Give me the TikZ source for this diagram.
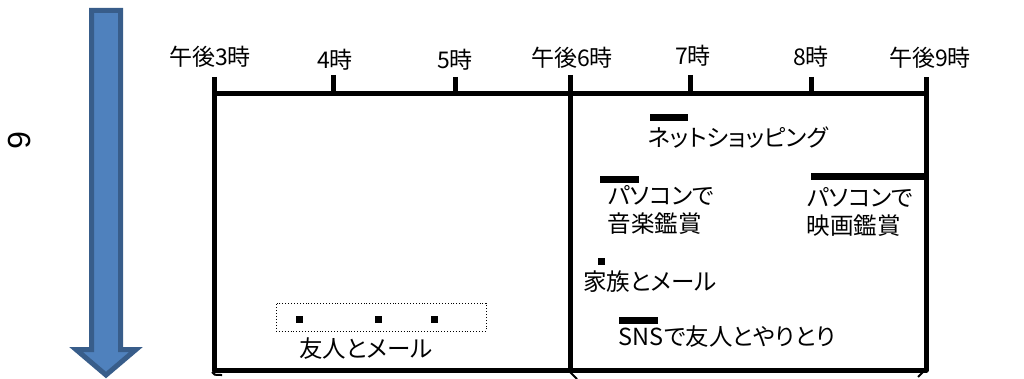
\documentclass[tikz,border=0pt]{standalone}
\usepackage{fontspec}
\setmainfont{Noto Sans CJK JP}
\newfontfamily\proptext[RawFeature=+palt]{Noto Sans CJK JP}
\newfontfamily\latinsans{Liberation Sans}
\definecolor{arrowfill}{HTML}{4F81BD}
\definecolor{arrowedge}{HTML}{385D8A}
\begin{document}
\begin{tikzpicture}[x=1pt,y=-1pt,
  frame/.style={line width=5pt, line join=round, line cap=butt},
  barnode/.style={rectangle, fill=black, draw=none, inner sep=0pt, minimum height=7pt},
  dotnode/.style={rectangle, fill=black, draw=none, inner sep=0pt, minimum width=7pt, minimum height=7pt},
  hourlbl/.style={font=\fontsize{23}{26}\selectfont, inner sep=0pt},
  bodytxt/.style={font=\proptext\fontsize{23.5}{28}\selectfont, inner sep=0pt, align=left},
  blockarrow/.style={fill=arrowfill, draw=arrowedge, line width=5pt, line join=miter}]
\useasboundingbox (0,0) rectangle (1024,379);
% big blue arrow
\draw[blockarrow] (91.5,10.5) -- (120.5,10.5) -- (120.5,349.5) -- (136,349.5) -- (106,375) -- (76,349.5) -- (91.5,349.5) -- cycle;
\node[font=\latinsans\fontsize{32}{36}\selectfont, rotate=-90, inner sep=0pt] (six) at (20,140) {6};
% timeline coordinates
\coordinate (t3) at (214.5,77);
\coordinate (t4) at (333.5,75);
\coordinate (t5) at (455.5,77);
\coordinate (t6) at (570,75);
\coordinate (t7) at (690,75);
\coordinate (t8) at (811,77);
\coordinate (t9) at (926,77);
\coordinate (a3) at (214.5,93.5);
\coordinate (a4) at (333.5,93.5);
\coordinate (a5) at (455.5,93.5);
\coordinate (a6) at (570,93.5);
\coordinate (a7) at (690,93.5);
\coordinate (a8) at (811,93.5);
\coordinate (a9) at (926,93.5);
\coordinate (b3) at (214.5,370);
\coordinate (b6) at (570,370);
\coordinate (b9) at (926,370);
% frame
\draw[frame] (a3) -- (a9);
\draw[frame] (t3) -- (b3) -- (b9) -- (t9);
\draw[frame] (t6) -- (b6);
\draw[frame] (t4) -- (a4);
\draw[frame] (t5) -- (a5);
\draw[frame] (t7) -- (a7);
\draw[frame] (t8) -- (a8);
% hour labels
\node[hourlbl] (h3) at (210,57) {午後3時};
\node[hourlbl] (h4) at (335,60) {4時};
\node[hourlbl] (h5) at (455,60) {5時};
\node[hourlbl] (h6) at (572,58) {午後6時};
\node[hourlbl] (h7) at (693,56) {7時};
\node[hourlbl] (h8) at (811,57) {8時};
\node[hourlbl] (h9) at (930,58) {午後9時};
% activities
\node[barnode, minimum width=38pt] (shopbar) at (669,117.5) {};
\node[bodytxt] (shop) at (738,138) {ネットショッピング};
\node[barnode, minimum width=39pt] (musicbar) at (619.5,179.5) {};
\node[bodytxt] (music) at (661,210) {パソコンで\\音楽鑑賞};
\node[barnode, minimum width=114pt] (moviebar) at (868,177) {};
\node[bodytxt] (movie) at (860,212) {パソコンで\\映画鑑賞};
\node[dotnode] (famdot) at (601.5,261.5) {};
\node[bodytxt] (family) at (650,282) {家族とメール};
\node[barnode, minimum width=39pt] (snsbar) at (638.5,320) {};
\node[bodytxt] (sns) at (727,337) {SNSで友人とやりとり};
\node[draw, dotted, line width=0.9pt, inner sep=0pt, minimum width=210pt, minimum height=28pt] (mailbox) at (381,317) {};
\node[dotnode] (md1) at (299.5,319.5) {};
\node[dotnode] (md2) at (378,319.5) {};
\node[dotnode] (md3) at (434.5,319.5) {};
\node[bodytxt] (mail) at (366,349) {友人とメール};
% cut-off fragments at the bottom edge
\coordinate (f1) at (212,372);
\coordinate (f2) at (222,375);
\coordinate (f3) at (570,372);
\coordinate (f4) at (577,379);
\coordinate (f5) at (923,372);
\coordinate (f6) at (918,377);
\draw[line width=2pt] (f1) .. controls (214,375) .. (f2);
\draw[line width=2pt] (f3) -- (f4);
\draw[line width=2pt] (f5) -- (f6);
\end{tikzpicture}
\end{document}
